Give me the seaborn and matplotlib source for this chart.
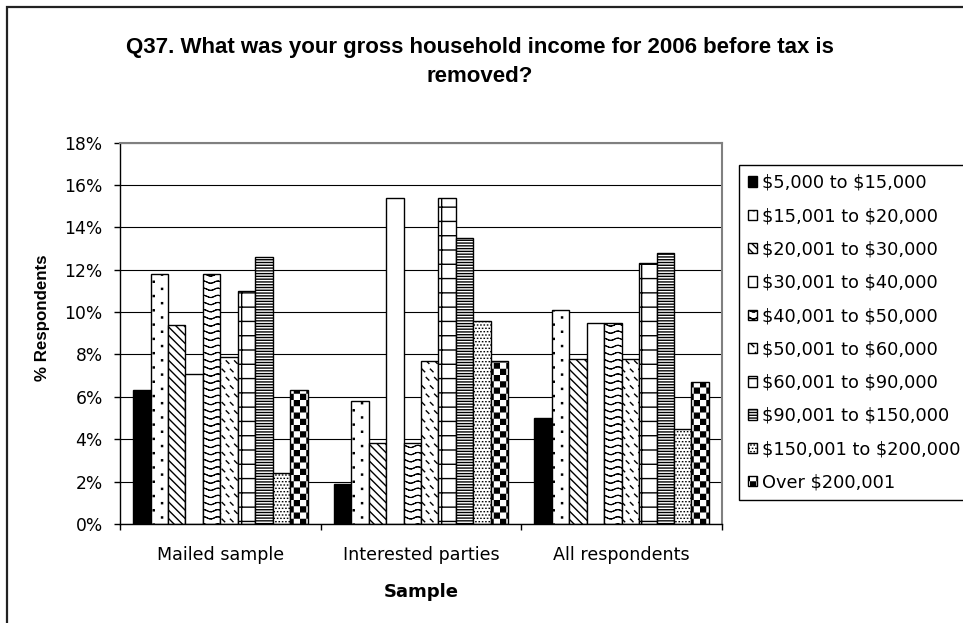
import warnings
import numpy as np
import pandas as pd
import matplotlib
matplotlib.use("Agg")
import matplotlib.pyplot as plt
import matplotlib.hatch as mhatch
from matplotlib.path import Path
from matplotlib.patches import Rectangle
from matplotlib.ticker import FuncFormatter
import seaborn as sns

warnings.filterwarnings("ignore", category=matplotlib.MatplotlibDeprecationWarning)

# ---------------------------------------------------------------- data
samples = ["Mailed sample", "Interested parties", "All respondents"]
brackets = [
    "$5,000 to $15,000",
    "$15,001 to $20,000",
    "$20,001 to $30,000",
    "$30,001 to $40,000",
    "$40,001 to $50,000",
    "$50,001 to $60,000",
    "$60,001 to $90,000",
    "$90,001 to $150,000",
    "$150,001 to $200,000",
    "Over $200,001",
]
mailed = [6.3, 11.8, 9.4, 7.1, 11.8, 7.9, 11.0, 12.6, 2.4, 6.3]
interested = [1.9, 5.8, 3.8, 15.4, 3.8, 7.7, 15.4, 13.5, 9.6, 7.7]
all_resp = [5.0, 10.1, 7.8, 9.5, 9.5, 7.8, 12.3, 12.8, 4.5, 6.7]
yticks = [0, 2, 4, 6, 8, 10, 12, 14, 16, 18]


# ------------------------------------------------- extra hatch patterns
def _segments(segs):
    verts = np.empty((2 * len(segs), 2))
    codes = np.empty(2 * len(segs), Path.code_type)
    for k, (x0, y0, x1, y1) in enumerate(segs):
        verts[2 * k] = (x0, y0)
        verts[2 * k + 1] = (x1, y1)
        codes[2 * k] = Path.MOVETO
        codes[2 * k + 1] = Path.LINETO
    return verts, codes


def _squares(sq):
    verts = np.empty((5 * len(sq), 2))
    codes = np.empty(5 * len(sq), Path.code_type)
    for k, (x, y, s) in enumerate(sq):
        verts[5 * k:5 * k + 5] = [(x, y), (x + s, y), (x + s, y + s), (x, y + s), (x, y)]
        codes[5 * k:5 * k + 5] = [Path.MOVETO, Path.LINETO, Path.LINETO,
                                  Path.LINETO, Path.CLOSEPOLY]
    return verts, codes


def wave_tile():
    rows, periods, steps = 14, 7, 10
    xs = np.linspace(0, 1, periods * steps + 1)
    segs = []
    for i in range(rows):
        ys = (i + 0.5) / rows + 0.011 * np.sin(2 * np.pi * periods * xs)
        for k in range(len(xs) - 1):
            segs.append((xs[k], ys[k], xs[k + 1], ys[k + 1]))
    return _segments(segs)


def sparse_dot_tile():
    sq = []
    for j in range(12):
        for i in range(7):
            x = (j + 0.4) / 12
            y = (i + 0.25 + 0.5 * (j % 2)) / 7
            sq.append((x, y, 0.008))
    return _squares(sq)


def fine_dot_tile():
    segs = []
    n = 30
    for i in range(n):
        for j in range(n):
            x = (j + 0.25 + 0.5 * (i % 2)) / n
            y = (i + 0.5) / n
            segs.append((x, y, x + 0.002, y))
    return _segments(segs)


def dash_tile():
    segs = []
    n = 12
    for i in range(n):
        for j in range(n):
            x = (j + 0.15 + 0.5 * (i % 2)) / n
            y = (i + 0.7) / n
            segs.append((x, y, x + 0.026, y - 0.026))
    return _segments(segs)


def grid_tile():
    segs = [(0, (i + 0.5) / 7, 1, (i + 0.5) / 7) for i in range(7)]
    segs += [((j + 0.5) / 6, 0, (j + 0.5) / 6, 1) for j in range(6)]
    return _segments(segs)


def checker_tile():
    n, inset = 16, 0.007
    cell = 1 / n
    sq = [(j * cell + inset, i * cell + inset, cell - 2 * inset)
          for i in range(n) for j in range(n) if (i + j) % 2 == 0]
    return _squares(sq)


class _TileHatch(mhatch.HatchPatternBase):
    key = ""
    builder = None

    def __init__(self, hatch, density):
        if self.key in hatch:
            self.verts, self.codes = type(self).builder()
        else:
            self.verts = np.empty((0, 2))
            self.codes = np.empty(0, Path.code_type)
        self.num_vertices = len(self.verts)

    def set_vertices_and_codes(self, vertices, codes):
        vertices[:] = self.verts
        codes[:] = self.codes


for _key, _fn in [("w", wave_tile), ("p", sparse_dot_tile), ("f", fine_dot_tile),
                  ("d", dash_tile), ("g", grid_tile), ("k", checker_tile)]:
    mhatch._hatch_types.append(
        type(f"Hatch_{_key}", (_TileHatch,), {"key": _key, "builder": staticmethod(_fn)}))

# face colour, hatch and hatch line width of each income bracket
styles = [
    ("black", None, 1.0),
    ("white", "p", 1.2),
    ("white", "\\\\\\\\", 1.0),
    ("white", None, 1.0),
    ("white", "w", 0.8),
    ("white", "d", 1.0),
    ("white", "g", 1.0),
    ("white", "------", 1.0),
    ("white", "f", 1.0),
    ("white", "k", 1.0),
]

# ---------------------------------------------------------------- plot
sns.set_theme(style="white")
plt.rcParams["font.family"] = ["DejaVu Sans"]
plt.rcParams["hatch.linewidth"] = 1.0
plt.rcParams["hatch.color"] = "black"

df = pd.DataFrame({
    "Sample": np.repeat(samples, len(brackets)),
    "Income": brackets * len(samples),
    "Pct": mailed + interested + all_resp,
})

W, H = 963, 623
fig = plt.figure(figsize=(W / 100, H / 100), dpi=100)
fig.patch.set_facecolor("white")
ax = fig.add_axes([120 / W, 1 - 524 / H, 602 / W, 381.5 / H])

sns.barplot(data=df, x="Sample", y="Pct", hue="Income", order=samples,
            hue_order=brackets, palette=["white"] * len(brackets), saturation=1,
            width=0.87, gap=0, errorbar=None, legend=False, ax=ax)

for cont, (face, hatch, hlw) in zip(ax.containers, styles):
    for bar in cont:
        bar.set_facecolor(face)
        bar.set_edgecolor("black")
        bar.set_linewidth(1.0)
        bar.set_hatch(hatch)
        if hasattr(bar, "set_hatch_linewidth"):
            bar.set_hatch_linewidth(hlw)

ax.set_facecolor("white")
ax.set_ylim(0, 18)
ax.set_yticks(yticks)
ax.yaxis.set_major_formatter(FuncFormatter(lambda v, _: f"{v:.0f}%"))
ax.yaxis.grid(True, color="black", linewidth=0.8)
ax.set_axisbelow(True)

ax.set_xlim(-0.5, 2.5)
ax.set_xticks([-0.5, 0.5, 1.5, 2.5])
ax.set_xticklabels([])
ax.set_xticks([0, 1, 2], minor=True)
ax.set_xticklabels(samples, minor=True)

ax.tick_params(axis="y", which="major", direction="out", length=4.5, width=1,
               color="black", pad=8, labelsize=12.3, labelcolor="black", left=True)
ax.tick_params(axis="x", which="major", direction="out", length=4.5, width=1,
               color="black", bottom=True)
ax.tick_params(axis="x", which="minor", length=0, pad=15.5, labelsize=12.6,
               labelcolor="black", bottom=True)

for side in ("left", "bottom"):
    ax.spines[side].set_color("black")
    ax.spines[side].set_linewidth(1.0)
for side in ("top", "right"):
    ax.spines[side].set_color("#808080")
    ax.spines[side].set_linewidth(1.5)

ax.set_xlabel("Sample", fontsize=13, fontweight="bold", color="black")
ax.xaxis.set_label_coords(0.5, -0.155)
ax.set_ylabel("% Respondents", family=["Liberation Sans", "DejaVu Sans"],
              fontsize=12.2, fontweight="bold", color="black")
ax.yaxis.set_label_coords(-0.1163, 0.54)

fig.text(480 / W, 1 - 47 / H,
         "Q37. What was your gross household income for 2006 before tax is",
         ha="center", va="center", fontsize=16, fontweight="bold",
         family=["Liberation Sans", "DejaVu Sans"], color="black")
fig.text(480 / W, 1 - 76 / H, "removed?",
         ha="center", va="center", fontsize=16, fontweight="bold",
         family=["Liberation Sans", "DejaVu Sans"], color="black")

# dollar signs are literal text, not math delimiters
legend_labels = [b.replace("$", r"\$") for b in brackets]
handles = [cont.patches[0] for cont in ax.containers]
leg = fig.legend(handles, legend_labels, loc="upper left",
                 bbox_to_anchor=(739 / W, 1 - 165 / H), bbox_transform=fig.transFigure,
                 fontsize=12.8, frameon=True, fancybox=False, shadow=False,
                 framealpha=1, edgecolor="black", handlelength=0.52,
                 handleheight=0.52, handletextpad=0.25, labelspacing=0.86,
                 borderpad=0.5, borderaxespad=0)
leg.get_frame().set_linewidth(1.0)
for t in leg.get_texts():
    t.set_color("black")

# outer chart border
fig.add_artist(Rectangle((6.5 / W, -0.2), 1.2, 1.2 - 6.5 / H,
                         transform=fig.transFigure, fill=False,
                         edgecolor="#222222", linewidth=1.6))

fig.savefig("out.png", dpi=100)
